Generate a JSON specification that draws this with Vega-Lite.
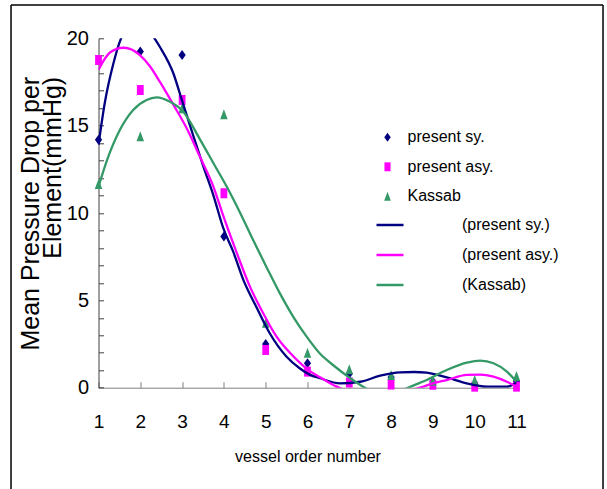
{
  "$schema": "https://vega.github.io/schema/vega-lite/v6.json",
  "width": 418,
  "height": 349.4,
  "autosize": {"type": "none"},
  "padding": {"left": 98.5, "top": 38.3, "right": 90.5, "bottom": 101.3},
  "background": "white",
  "config": {
    "view": {"stroke": null},
    "font": "Liberation Sans",
    "axis": {"grid": false, "labelColor": "black", "titleColor": "black", "titleFontWeight": "normal", "labelFont": "Liberation Sans", "titleFont": "Liberation Sans"},
    "legend": {"labelFont": "Liberation Sans", "labelFontSize": 16, "labelColor": "black", "padding": 0, "rowPadding": 13.5}
  },
  "datasets": {
    "points": [
      {"order": 1, "value": 14.2, "series": "present sy."},
      {"order": 2, "value": 19.25, "series": "present sy."},
      {"order": 3, "value": 19.05, "series": "present sy."},
      {"order": 4, "value": 8.65, "series": "present sy."},
      {"order": 5, "value": 2.5, "series": "present sy."},
      {"order": 6, "value": 1.4, "series": "present sy."},
      {"order": 7, "value": 0.8, "series": "present sy."},
      {"order": 8, "value": 0.6, "series": "present sy."},
      {"order": 9, "value": 0.35, "series": "present sy."},
      {"order": 10, "value": 0.2, "series": "present sy."},
      {"order": 11, "value": 0.35, "series": "present sy."},
      {"order": 1, "value": 18.76, "series": "present asy."},
      {"order": 2, "value": 17.04, "series": "present asy."},
      {"order": 3, "value": 16.47, "series": "present asy."},
      {"order": 4, "value": 11.13, "series": "present asy."},
      {"order": 5, "value": 2.16, "series": "present asy."},
      {"order": 6, "value": 0.92, "series": "present asy."},
      {"order": 7, "value": 0.3, "series": "present asy."},
      {"order": 8, "value": 0.18, "series": "present asy."},
      {"order": 9, "value": 0.17, "series": "present asy."},
      {"order": 10, "value": 0.06, "series": "present asy."},
      {"order": 11, "value": 0.06, "series": "present asy."},
      {"order": 1, "value": 11.66, "series": "Kassab"},
      {"order": 2, "value": 14.4, "series": "Kassab"},
      {"order": 3, "value": 16.0, "series": "Kassab"},
      {"order": 4, "value": 15.65, "series": "Kassab"},
      {"order": 5, "value": 3.72, "series": "Kassab"},
      {"order": 6, "value": 2.0, "series": "Kassab"},
      {"order": 7, "value": 1.05, "series": "Kassab"},
      {"order": 8, "value": 0.73, "series": "Kassab"},
      {"order": 9, "value": 0.4, "series": "Kassab"},
      {"order": 10, "value": 0.44, "series": "Kassab"},
      {"order": 11, "value": 0.67, "series": "Kassab"}
    ],
    "curves": [
      {"order": 1.0, "value": 13.9, "fit": "(present sy.)"},
      {"order": 1.15, "value": 16.3, "fit": "(present sy.)"},
      {"order": 1.35, "value": 18.5, "fit": "(present sy.)"},
      {"order": 1.54, "value": 20.0, "fit": "(present sy.)"},
      {"order": 1.75, "value": 20.8, "fit": "(present sy.)"},
      {"order": 1.95, "value": 21.0, "fit": "(present sy.)"},
      {"order": 2.15, "value": 20.7, "fit": "(present sy.)"},
      {"order": 2.34, "value": 20.0, "fit": "(present sy.)"},
      {"order": 2.47, "value": 19.5, "fit": "(present sy.)"},
      {"order": 2.79, "value": 18.0, "fit": "(present sy.)"},
      {"order": 2.99, "value": 16.5, "fit": "(present sy.)"},
      {"order": 3.27, "value": 14.4, "fit": "(present sy.)"},
      {"order": 3.51, "value": 12.65, "fit": "(present sy.)"},
      {"order": 3.75, "value": 11.0, "fit": "(present sy.)"},
      {"order": 3.99, "value": 9.1, "fit": "(present sy.)"},
      {"order": 4.22, "value": 7.8, "fit": "(present sy.)"},
      {"order": 4.46, "value": 6.2, "fit": "(present sy.)"},
      {"order": 4.78, "value": 4.6, "fit": "(present sy.)"},
      {"order": 5.1, "value": 3.1, "fit": "(present sy.)"},
      {"order": 5.5, "value": 1.77, "fit": "(present sy.)"},
      {"order": 5.82, "value": 1.1, "fit": "(present sy.)"},
      {"order": 6.05, "value": 0.75, "fit": "(present sy.)"},
      {"order": 6.3, "value": 0.54, "fit": "(present sy.)"},
      {"order": 6.78, "value": 0.25, "fit": "(present sy.)"},
      {"order": 7.26, "value": 0.34, "fit": "(present sy.)"},
      {"order": 7.74, "value": 0.69, "fit": "(present sy.)"},
      {"order": 8.22, "value": 0.88, "fit": "(present sy.)"},
      {"order": 8.55, "value": 0.9, "fit": "(present sy.)"},
      {"order": 8.85, "value": 0.86, "fit": "(present sy.)"},
      {"order": 9.33, "value": 0.59, "fit": "(present sy.)"},
      {"order": 9.81, "value": 0.25, "fit": "(present sy.)"},
      {"order": 10.29, "value": 0.06, "fit": "(present sy.)"},
      {"order": 10.77, "value": 0.06, "fit": "(present sy.)"},
      {"order": 11.0, "value": 0.3, "fit": "(present sy.)"},
      {"order": 1.0, "value": 18.2, "fit": "(present asy.)"},
      {"order": 1.28, "value": 19.2, "fit": "(present asy.)"},
      {"order": 1.59, "value": 19.46, "fit": "(present asy.)"},
      {"order": 1.75, "value": 19.4, "fit": "(present asy.)"},
      {"order": 1.99, "value": 19.04, "fit": "(present asy.)"},
      {"order": 2.23, "value": 18.4, "fit": "(present asy.)"},
      {"order": 2.47, "value": 17.5, "fit": "(present asy.)"},
      {"order": 2.79, "value": 16.2, "fit": "(present asy.)"},
      {"order": 3.11, "value": 14.85, "fit": "(present asy.)"},
      {"order": 3.43, "value": 13.2, "fit": "(present asy.)"},
      {"order": 3.75, "value": 11.5, "fit": "(present asy.)"},
      {"order": 3.99, "value": 9.8, "fit": "(present asy.)"},
      {"order": 4.31, "value": 7.7, "fit": "(present asy.)"},
      {"order": 4.62, "value": 5.8, "fit": "(present asy.)"},
      {"order": 4.94, "value": 4.26, "fit": "(present asy.)"},
      {"order": 5.26, "value": 2.92, "fit": "(present asy.)"},
      {"order": 5.66, "value": 1.8, "fit": "(present asy.)"},
      {"order": 5.9, "value": 1.25, "fit": "(present asy.)"},
      {"order": 6.06, "value": 0.95, "fit": "(present asy.)"},
      {"order": 6.3, "value": 0.6, "fit": "(present asy.)"},
      {"order": 6.7, "value": 0.06, "fit": "(present asy.)"},
      {"order": 7.2, "value": -0.35, "fit": "(present asy.)"},
      {"order": 7.8, "value": -0.45, "fit": "(present asy.)"},
      {"order": 8.4, "value": -0.2, "fit": "(present asy.)"},
      {"order": 8.75, "value": 0.05, "fit": "(present asy.)"},
      {"order": 9.0, "value": 0.25, "fit": "(present asy.)"},
      {"order": 9.33, "value": 0.44, "fit": "(present asy.)"},
      {"order": 9.81, "value": 0.73, "fit": "(present asy.)"},
      {"order": 10.13, "value": 0.75, "fit": "(present asy.)"},
      {"order": 10.45, "value": 0.63, "fit": "(present asy.)"},
      {"order": 10.77, "value": 0.34, "fit": "(present asy.)"},
      {"order": 11.0, "value": 0.06, "fit": "(present asy.)"},
      {"order": 1.0, "value": 11.5, "fit": "(Kassab)"},
      {"order": 1.2, "value": 13.0, "fit": "(Kassab)"},
      {"order": 1.51, "value": 14.75, "fit": "(Kassab)"},
      {"order": 1.83, "value": 15.9, "fit": "(Kassab)"},
      {"order": 2.15, "value": 16.47, "fit": "(Kassab)"},
      {"order": 2.39, "value": 16.62, "fit": "(Kassab)"},
      {"order": 2.71, "value": 16.37, "fit": "(Kassab)"},
      {"order": 3.03, "value": 15.8, "fit": "(Kassab)"},
      {"order": 3.43, "value": 14.2, "fit": "(Kassab)"},
      {"order": 3.75, "value": 12.85, "fit": "(Kassab)"},
      {"order": 4.07, "value": 11.5, "fit": "(Kassab)"},
      {"order": 4.39, "value": 10.0, "fit": "(Kassab)"},
      {"order": 4.7, "value": 8.45, "fit": "(Kassab)"},
      {"order": 5.02, "value": 6.9, "fit": "(Kassab)"},
      {"order": 5.34, "value": 5.4, "fit": "(Kassab)"},
      {"order": 5.66, "value": 4.06, "fit": "(Kassab)"},
      {"order": 5.98, "value": 2.92, "fit": "(Kassab)"},
      {"order": 6.29, "value": 1.97, "fit": "(Kassab)"},
      {"order": 6.61, "value": 1.3, "fit": "(Kassab)"},
      {"order": 7.02, "value": 0.55, "fit": "(Kassab)"},
      {"order": 7.33, "value": 0.06, "fit": "(Kassab)"},
      {"order": 7.6, "value": -0.25, "fit": "(Kassab)"},
      {"order": 7.9, "value": -0.35, "fit": "(Kassab)"},
      {"order": 8.2, "value": -0.2, "fit": "(Kassab)"},
      {"order": 8.4, "value": 0.0, "fit": "(Kassab)"},
      {"order": 8.85, "value": 0.44, "fit": "(Kassab)"},
      {"order": 9.33, "value": 1.01, "fit": "(Kassab)"},
      {"order": 9.81, "value": 1.43, "fit": "(Kassab)"},
      {"order": 10.13, "value": 1.55, "fit": "(Kassab)"},
      {"order": 10.45, "value": 1.4, "fit": "(Kassab)"},
      {"order": 10.77, "value": 0.92, "fit": "(Kassab)"},
      {"order": 11.0, "value": 0.34, "fit": "(Kassab)"}
    ]
  },
  "resolve": {"axis": {"y": "independent", "x": "independent"}},
  "layer": [
    {
      "data": {"name": "points"},
      "mark": {"type": "point", "filled": true, "size": 100, "opacity": 1, "strokeWidth": 0, "clip": false},
      "encoding": {
        "x": {
          "field": "order", "type": "quantitative",
          "scale": {"domain": [1, 11], "nice": false, "zero": false},
          "axis": {
            "title": "vessel order number", "values": [1, 2, 3, 4, 5, 6, 7, 8, 9, 10, 11],
            "tickSize": -6, "domainColor": "#808080", "tickColor": "#808080",
            "labelFontSize": 19, "labelPadding": 31, "labelFlush": false, "labelOverlap": false,
            "titleFontSize": 16, "titleBaseline": "alphabetic", "titleY": 74
          }
        },
        "y": {
          "field": "value", "type": "quantitative",
          "scale": {"domain": [0, 20], "nice": false, "zero": false},
          "axis": {
            "title": ["Mean Pressure Drop per", "Element(mmHg)"],
            "values": [0, 1, 2, 3, 4, 5, 6, 7, 8, 9, 10, 11, 12, 13, 14, 15, 16, 17, 18, 19, 20],
            "labelExpr": "datum.value % 5 === 0 ? datum.label : ''",
            "tickSize": -5, "domainColor": "#404040", "tickColor": "#404040",
            "labelFontSize": 20, "labelPadding": 15, "labelFlush": false, "labelOverlap": false,
            "titleFontSize": 25, "titleLineHeight": 22, "titleAlign": "right", "titleBaseline": "bottom",
            "titleX": -55, "titleY": 38
          }
        },
        "fill": {
          "field": "series", "type": "nominal",
          "scale": {"domain": ["present sy.", "present asy.", "Kassab"], "range": ["#000080", "#FF00FF", "#339966"]},
          "legend": {"title": null, "orient": "none", "legendX": 281, "legendY": 91, "symbolSize": 80, "symbolStrokeWidth": 0, "labelOffset": 12}
        },
        "shape": {
          "field": "series", "type": "nominal",
          "scale": {"domain": ["present sy.", "present asy.", "Kassab"], "range": ["M0,-1L0.72,0L0,1L-0.72,0Z", "M-0.68,-1H0.68V1H-0.68Z", "M0,-1L0.75,1H-0.75Z"]},
          "legend": {"title": null, "orient": "none", "legendX": 281, "legendY": 91, "symbolSize": 80, "symbolStrokeWidth": 0, "labelOffset": 12}
        }
      }
    },
    {
      "data": {"name": "curves"},
      "mark": {"type": "line", "interpolate": "monotone", "strokeWidth": 2.3, "clip": true},
      "encoding": {
        "x": {"field": "order", "type": "quantitative", "axis": null},
        "y": {"field": "value", "type": "quantitative", "axis": null},
        "stroke": {
          "field": "fit", "type": "nominal",
          "scale": {"domain": ["(present sy.)", "(present asy.)", "(Kassab)"], "range": ["#000080", "#FF00FF", "#339966"]},
          "legend": {"title": null, "orient": "none", "legendX": 276.5, "legendY": 171.7, "rowPadding": 7, "symbolSize": 729, "symbolStrokeWidth": 2.5, "labelOffset": 57}
        }
      }
    },
    {
      "data": {"values": [{}]},
      "mark": {"type": "rule", "stroke": "black", "strokeWidth": 1.5, "clip": false},
      "encoding": {
        "x": {"datum": -1.093, "type": "quantitative", "axis": null},
        "x2": {"datum": 13.07},
        "y": {"datum": 21.906, "type": "quantitative", "axis": null}
      }
    },
    {
      "data": {"values": [{}]},
      "mark": {"type": "rule", "stroke": "black", "strokeWidth": 1.5, "clip": false},
      "encoding": {
        "x": {"datum": -1.093, "type": "quantitative", "axis": null},
        "y": {"datum": 21.906, "type": "quantitative", "axis": null},
        "y2": {"datum": -5.97}
      }
    },
    {
      "data": {"values": [{}]},
      "mark": {"type": "rule", "stroke": "black", "strokeWidth": 1.5, "clip": false},
      "encoding": {
        "x": {"datum": 13.07, "type": "quantitative", "axis": null},
        "y": {"datum": 21.906, "type": "quantitative", "axis": null},
        "y2": {"datum": -5.97}
      }
    }
  ]
}
